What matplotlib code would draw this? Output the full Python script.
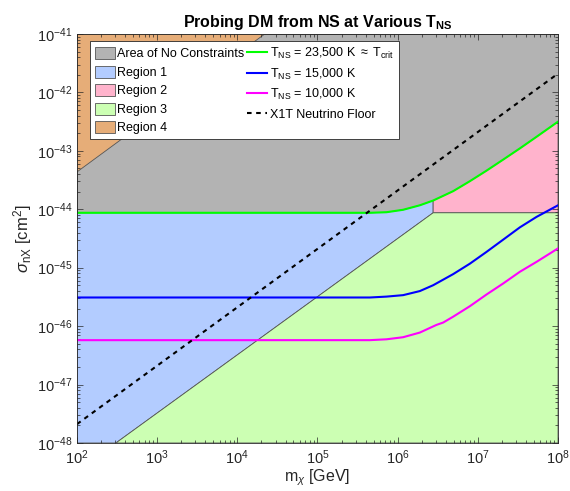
import numpy as np
import matplotlib
matplotlib.use('Agg')
import matplotlib.pyplot as plt
from matplotlib.ticker import LogLocator, NullFormatter

plt.rcParams['font.family'] = ['Liberation Sans', 'DejaVu Sans']
plt.rcParams['mathtext.fontset'] = 'custom'
plt.rcParams['mathtext.rm'] = 'Liberation Sans'
plt.rcParams['mathtext.it'] = 'Liberation Sans:italic'
plt.rcParams['mathtext.bf'] = 'Liberation Sans:bold'

# границы областей
m_knee = 2.77e6
sigma_floor = 8.7e-45           # горизонтальная граница справа от излома
m_diag_start = 3.06e2           # где диагональ выходит из нижней оси
reg4_m = [1e2, 2.2e4, 1e2]
reg4_sigma = [4.35e-44, 1e-41, 1e-41]

# кривые для разных T_NS
m_green = [1e2, 1e5, 4.5e5, 7.26e5, 1.17e6, 1.89e6, 2.77e6, 4.92e6, 7.94e6,
           1.28e7, 2.07e7, 3.34e7, 5.40e7, 1e8]
sigma_green = [8.7e-45, 8.7e-45, 8.7e-45, 8.9e-45, 9.8e-45, 1.17e-44, 1.41e-44,
               2.04e-44, 3.02e-44, 4.57e-44, 7.08e-44, 1.10e-43, 1.74e-43, 3.16e-43]

m_blue = [1e2, 4.5e5, 7.26e5, 1.17e6, 1.89e6, 2.77e6, 4.92e6, 7.94e6, 1.28e7,
          2.07e7, 3.34e7, 5.40e7, 1e8]
sigma_blue = [3.09e-46, 3.09e-46, 3.2e-46, 3.39e-46, 3.98e-46, 5.01e-46, 7.76e-46,
              1.17e-45, 1.86e-45, 3.02e-45, 4.90e-45, 7.41e-45, 1.17e-44]

m_magenta = [1e2, 4.5e5, 7.26e5, 1.17e6, 1.89e6, 3.05e6, 3.69e6, 4.92e6, 7.94e6,
             1.28e7, 2.07e7, 3.34e7, 5.40e7, 1e8]
sigma_magenta = [5.75e-47, 5.75e-47, 5.95e-47, 6.46e-47, 7.76e-47, 1.05e-46, 1.15e-46,
                 1.45e-46, 2.19e-46, 3.47e-46, 5.37e-46, 8.51e-46, 1.26e-45, 2.14e-45]

# нейтринный пол X1T
m_floor = [1e2, 1e8]
sigma_nfloor = [2.1e-48, 2.1e-42]

xmin, xmax = 1e2, 1e8
ymin, ymax = 1e-48, 1e-41

fig = plt.figure(figsize=(5.7, 4.91), dpi=100)
ax = fig.add_axes([0.135, 0.0978, 0.844, 0.833])
ax.set_xscale('log')
ax.set_yscale('log')
ax.set_xlim(xmin, xmax)
ax.set_ylim(ymin, ymax)

edge = dict(edgecolor='#555555', linewidth=0.6)
k = m_green.index(m_knee)

# серая область - фон
h_gray = ax.fill([xmin, xmax, xmax, xmin], [ymin, ymin, ymax, ymax],
                 facecolor='#b3b3b3', label='Area of No Constraints', **edge)[0]
h_r1 = ax.fill([xmin, m_diag_start, m_knee] + m_green[k::-1],
               [ymin, ymin, sigma_floor] + sigma_green[k::-1],
               facecolor='#b3ccff', label='Region 1', **edge)[0]
h_r2 = ax.fill([m_knee] + m_green[k:] + [xmax],
               [sigma_floor] + sigma_green[k:] + [sigma_floor],
               facecolor='#ffb3cc', label='Region 2', **edge)[0]
h_r3 = ax.fill([m_diag_start, m_knee, xmax, xmax],
               [ymin, sigma_floor, sigma_floor, ymin],
               facecolor='#ccffb3', label='Region 3', **edge)[0]
h_r4 = ax.fill(reg4_m, reg4_sigma, facecolor='#e6ad78', label='Region 4', **edge)[0]

l1, = ax.plot(m_green, sigma_green, color='#00ff00', lw=1.5,
              label=r'T$_{\rm NS}$ = 23,500 K $\approx$ T$_{\rm crit}$')
l2, = ax.plot(m_blue, sigma_blue, color='#0000ff', lw=1.5, label=r'T$_{\rm NS}$ = 15,000 K')
l3, = ax.plot(m_magenta, sigma_magenta, color='#ff00ff', lw=1.5, label=r'T$_{\rm NS}$ = 10,000 K')
l4, = ax.plot(m_floor, sigma_nfloor, color='k', ls=(0, (2.2, 2.2)), lw=1.5,
              label='X1T Neutrino Floor')

ax.xaxis.set_major_locator(LogLocator(base=10, numticks=10))
ax.yaxis.set_major_locator(LogLocator(base=10, numticks=10))
ax.xaxis.set_minor_locator(LogLocator(base=10, subs=np.arange(2, 10), numticks=20))
ax.yaxis.set_minor_locator(LogLocator(base=10, subs=np.arange(2, 10), numticks=20))
ax.xaxis.set_minor_formatter(NullFormatter())
ax.yaxis.set_minor_formatter(NullFormatter())
ax.tick_params(which='both', direction='in', top=True, right=True, colors='#262626',
               labelsize=10.5, width=0.5)
ax.tick_params(which='major', length=4)
ax.tick_params(which='minor', length=2)
for s in ax.spines.values():
    s.set_color('#262626')
    s.set_linewidth(0.6)
ax.tick_params(axis='x', pad=4)

ax.set_xlabel(r'm$_\chi$ [GeV]', fontsize=11.5, color='#262626', labelpad=0)
ax.set_ylabel(r'$\sigma_{\rm nX}$ [cm$^2$]', fontsize=12, color='#262626', labelpad=2)
ax.set_title(r'Probing DM from NS at Various T$_{\bf NS}$', fontsize=11.5,
             fontweight='bold', pad=5)

leg = ax.legend(handles=[h_gray, h_r1, h_r2, h_r3, h_r4, l1, l2, l3, l4], ncol=2,
                loc='upper left', bbox_to_anchor=(0.027, 0.982), fontsize=9,
                frameon=True, fancybox=False, framealpha=1, edgecolor='#262626',
                handlelength=1.6, handleheight=1.1, handletextpad=0.2,
                columnspacing=0.2, labelspacing=0.42, borderpad=0.4,
                borderaxespad=0)
leg.get_frame().set_linewidth(0.6)

fig.savefig('out.png', dpi=100)
